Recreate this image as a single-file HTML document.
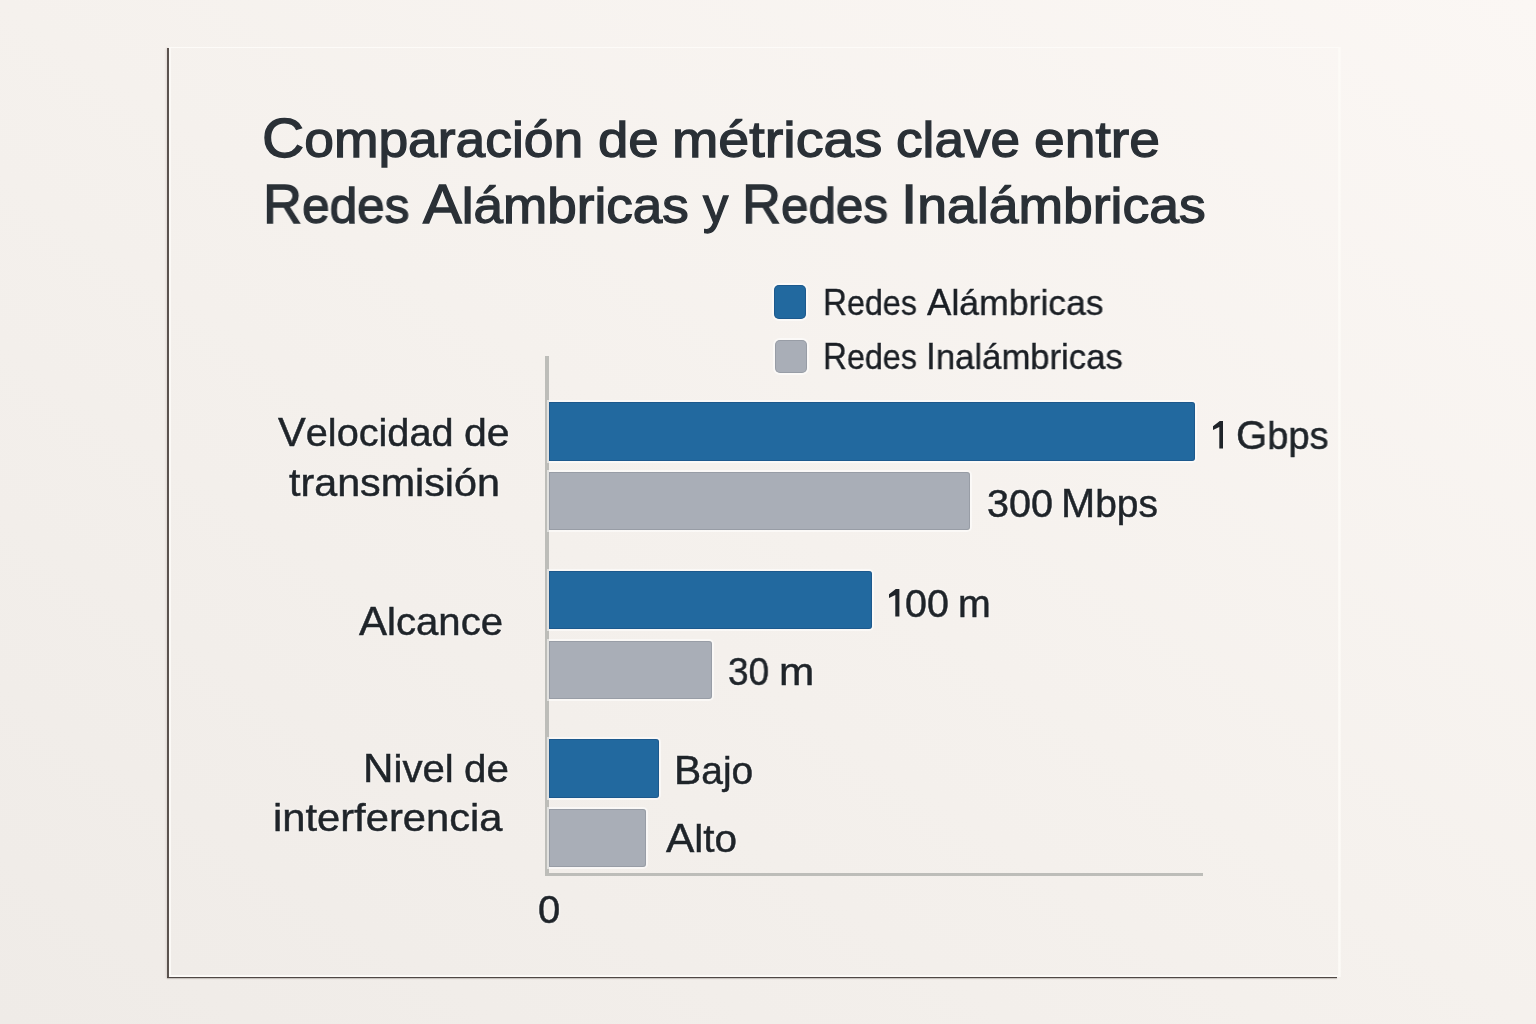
<!DOCTYPE html>
<html lang="es">
<head>
<meta charset="utf-8">
<title>Comparación de métricas clave entre Redes Alámbricas y Redes Inalámbricas</title>
<style>
  html, body { margin: 0; padding: 0; }
  body {
    width: 1536px; height: 1024px; overflow: hidden; position: relative;
    font-family: "Liberation Sans", sans-serif;
    background: linear-gradient(to top right, #efebe7 0%, #f5f1ed 50%, #fbf7f4 100%);
  }
  .abs { position: absolute; }
  .t {
    position: absolute; white-space: nowrap; line-height: 1; margin: 0;
    transform-origin: 0 0; color: #1f2429; will-change: transform;
    text-shadow: 0 0 2px rgba(255,255,255,0.85), 0 0 4px rgba(255,255,255,0.5);
  }
  .c { line-height: 0; }
  .title { color: #2a3036; -webkit-text-stroke: 1.3px #2a3036; }
  .lab { -webkit-text-stroke: 0.5px #1f2429; }
  .leg { color: #1b1f24; -webkit-text-stroke: 0.4px #1b1f24; }
  .bar { position: absolute; left: 549px; height: 59px; border-radius: 0 3px 3px 0; }
  .blue { background: #22699f; box-shadow: inset 0 0 0 1px rgba(20,60,110,0.35), 0 0 0 2px rgba(255,255,255,0.55); }
  .gray { background: #a9aeb7; box-shadow: inset 0 0 0 1px rgba(120,125,135,0.35), 0 0 0 2px rgba(255,255,255,0.55); }
</style>
</head>
<body>

<!-- card edges -->
<div class="abs" id="c-top"    style="left:169px; top:47px;  width:1170px; height:1px; background:#fdfbf8;"></div>
<div class="abs" id="c-right"  style="left:1338px; top:47px; width:3px; height:930px; background:linear-gradient(to right, rgba(253,251,247,0.6), #fdfbf7 40%, rgba(253,251,247,0.5));"></div>
<div class="abs" id="c-left"   style="left:167px; top:48px;  width:2px; height:930px; background:#5b534f; box-shadow:-1px 0 2px rgba(120,100,90,0.18);"></div>
<div class="abs" id="c-lefthl" style="left:169px; top:48px;  width:2px; height:928px; background:#fbf9f6;"></div>
<div class="abs" id="c-bothl"  style="left:169px; top:975px; width:1169px; height:2px; background:#fcfaf7;"></div>
<div class="abs" id="c-bot"    style="left:167px; top:977px; width:1170px; height:1px; background:#4f4744; box-shadow: 0 1px 1px rgba(90,80,75,0.35);"></div>


<!-- legend -->
<div class="abs blue" style="left:774px; top:285px; width:32px; height:34px; border-radius:5px;"></div>
<div class="abs gray" style="left:775px; top:340px; width:32px; height:33px; border-radius:5px;"></div>

<!-- axes -->
<div class="abs" style="left:545px; top:356px; width:4px; height:520px; background:#bdbdb9;"></div>
<div class="abs" style="left:545px; top:873px; width:658px; height:3px; background:#bdbdb9;"></div>

<!-- bars -->
<div class="bar blue" style="top:402px; width:646px;"></div>
<div class="bar gray" style="top:472px; width:421px; height:58px;"></div>
<div class="bar blue" style="top:571px; width:323px; height:58px;"></div>
<div class="bar gray" style="top:640.5px; width:163px; height:58px;"></div>
<div class="bar blue" style="top:739px; width:110px;"></div>
<div class="bar gray" style="top:808.5px; width:97px; height:58px;"></div>


<!-- text (each word individually placed) -->
<div class="t title" id="t1a" style="left:262.4px; top:115.1px; font-size:50.6px; transform:scaleX(1.0553);"><span class="c" style="font-size:1.095em">C</span>omparación</div>
<div class="t title" id="t1b" style="left:597.8px; top:115.1px; font-size:50.6px; transform:scaleX(1.0794);">de</div>
<div class="t title" id="t1c" style="left:671.7px; top:115.1px; font-size:50.6px; transform:scaleX(1.0999);">métricas</div>
<div class="t title" id="t1d" style="left:896.4px; top:115.1px; font-size:50.6px; transform:scaleX(1.0505);">clave</div>
<div class="t title" id="t1e" style="left:1034.1px; top:115.1px; font-size:50.6px; transform:scaleX(1.0914);">entre</div>
<div class="t title" id="t2a" style="left:262.6px; top:180.7px; font-size:50.6px; transform:scaleX(0.9774);"><span class="c" style="font-size:1.095em">R</span>edes</div>
<div class="t title" id="t2b" style="left:423.3px; top:180.7px; font-size:50.6px; transform:scaleX(1.049);"><span class="c" style="font-size:1.095em">A</span>lámbricas</div>
<div class="t title" id="t2c" style="left:703.4px; top:180.7px; font-size:50.6px; transform:scaleX(0.9992);">y</div>
<div class="t title" id="t2d" style="left:742.4px; top:180.7px; font-size:50.6px; transform:scaleX(0.975);"><span class="c" style="font-size:1.095em">R</span>edes</div>
<div class="t title" id="t2e" style="left:901.1px; top:180.7px; font-size:50.6px; transform:scaleX(1.0576);"><span class="c" style="font-size:1.095em">I</span>nalámbricas</div>
<div class="t leg" id="l1a" style="left:823.0px; top:285.5px; font-size:35.7px; transform:scaleX(0.9049);"><span class="c" style="font-size:1.025em">R</span>edes</div>
<div class="t leg" id="l1b" style="left:926.6px; top:285.5px; font-size:35.7px; transform:scaleX(0.9971);"><span class="c" style="font-size:1.025em">A</span>lámbricas</div>
<div class="t leg" id="l2a" style="left:823.0px; top:339.6px; font-size:35.7px; transform:scaleX(0.9049);"><span class="c" style="font-size:1.025em">R</span>edes</div>
<div class="t leg" id="l2b" style="left:925.6px; top:339.6px; font-size:35.7px; transform:scaleX(0.9713);"><span class="c" style="font-size:1.025em">I</span>nalámbricas</div>
<div class="t lab" id="c1a" style="left:277.9px; top:414.1px; font-size:38.9px; transform:scaleX(1.0198);"><span class="c" style="font-size:1.05em">V</span>elocidad</div>
<div class="t lab" id="c1b" style="left:464.0px; top:414.1px; font-size:38.9px; transform:scaleX(1.0547);">de</div>
<div class="t lab" id="c1c" style="left:288.8px; top:464.3px; font-size:38.9px; transform:scaleX(1.0606);">transmisión</div>
<div class="t lab" id="c2" style="left:359.1px; top:603.4px; font-size:38.9px; transform:scaleX(1.0313);"><span class="c" style="font-size:1.05em">A</span>lcance</div>
<div class="t lab" id="c3a" style="left:363.2px; top:750.1px; font-size:38.9px; transform:scaleX(1.0329);"><span class="c" style="font-size:1.05em">N</span>ivel</div>
<div class="t lab" id="c3b" style="left:464.3px; top:750.1px; font-size:38.9px; transform:scaleX(1.0374);">de</div>
<div class="t lab" id="c3c" style="left:272.9px; top:798.6px; font-size:38.9px; transform:scaleX(1.0721);">interferencia</div>
<div class="t lab" id="v1b" style="left:1236.0px; top:416.6px; font-size:38.7px; transform:scaleX(0.9839);"><span class="c" style="font-size:1.055em">G</span>bps</div>
<div class="t lab" id="v2a" style="left:987.0px; top:484.7px; font-size:38.7px; transform:scaleX(1.0221);">300</div>
<div class="t lab" id="v2b" style="left:1060.7px; top:484.7px; font-size:38.7px; transform:scaleX(1.0058);"><span class="c" style="font-size:1.055em">M</span>bps</div>
<div class="t lab" id="v3a" style="left:904.6px; top:584.7px; font-size:38.7px; transform:scaleX(1.0185);">00</div>
<div class="t lab" id="v3b" style="left:957.8px; top:584.7px; font-size:38.7px; transform:scaleX(1.0162);">m</div>
<div class="t lab" id="v4a" style="left:728.4px; top:652.8px; font-size:38.7px; transform:scaleX(0.956);">30</div>
<div class="t lab" id="v4b" style="left:778.8px; top:652.8px; font-size:38.7px; transform:scaleX(1.093);">m</div>
<div class="t lab" id="v5" style="left:674.2px; top:752.2px; font-size:38.9px; transform:scaleX(1.0004);"><span class="c" style="font-size:1.05em">B</span>ajo</div>
<div class="t lab" id="v6" style="left:665.6px; top:820.3px; font-size:38.9px; transform:scaleX(1.0405);"><span class="c" style="font-size:1.05em">A</span>lto</div>
<div class="t lab" id="zero" style="left:537.7px; top:891.0px; font-size:38.3px; transform:scaleX(1.0441);">0</div>
<svg class="abs" style="left:1212.7px; top:421.2px;" width="10.4" height="27.6" viewBox="0 0 10.4 27.6" role="img" aria-label="1"><title>1</title><path d="M6.8 0H10.4V27.6H6.3V5.9L0 9V5.3Z" fill="#1f2429"/></svg>
<svg class="abs" style="left:889.4px; top:589.2px;" width="10.4" height="27.6" viewBox="0 0 10.4 27.6" role="img" aria-label="1"><title>1</title><path d="M6.8 0H10.4V27.6H6.3V5.9L0 9V5.3Z" fill="#1f2429"/></svg>

</body>
</html>
